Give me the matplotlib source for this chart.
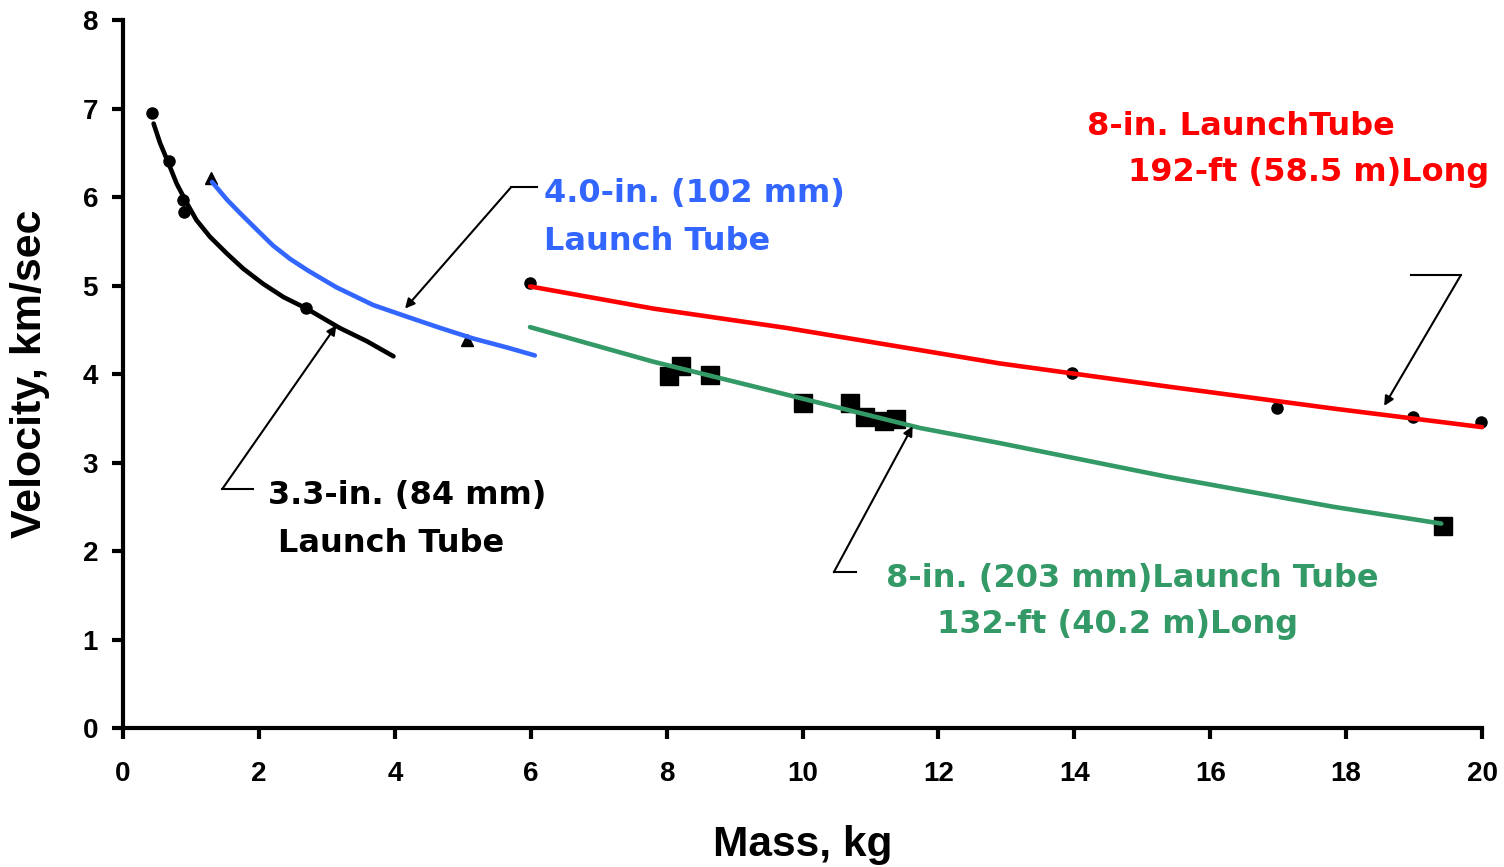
import matplotlib
matplotlib.use("Agg")
import matplotlib.pyplot as plt

plt.rcParams['font.family'] = ['Liberation Sans', 'DejaVu Sans']
plt.rcParams['font.weight'] = 'bold'

BLUE = '#3366FF'
RED = '#FF0000'
GREEN = '#339966'

# 3.3-in. tube: fitted curve and test shots
black_curve_x = [0.45, 0.545, 0.67, 0.79, 0.94, 1.08, 1.28, 1.53, 1.77, 2.06,
                 2.36, 2.70, 3.19, 3.59, 3.98]
black_curve_y = [6.83, 6.61, 6.38, 6.15, 5.93, 5.74, 5.55, 5.36, 5.19, 5.02,
                 4.87, 4.74, 4.52, 4.37, 4.20]
black_pts_x = [0.42, 0.67, 0.88, 0.90, 2.70]
black_pts_y = [6.95, 6.41, 5.97, 5.83, 4.75]

# 4.0-in. tube
blue_curve_x = [1.31, 1.53, 1.72, 1.97, 2.21, 2.46, 2.72, 3.14, 3.68, 4.17,
                4.67, 5.16, 5.65, 6.06]
blue_curve_y = [6.17, 5.97, 5.82, 5.63, 5.45, 5.30, 5.17, 4.98, 4.78, 4.65,
                4.52, 4.40, 4.30, 4.21]
blue_pts_x = [1.30, 5.06]
blue_pts_y = [6.21, 4.39]

# 8-in. tube, 192 ft long
red_curve_x = [5.99, 7.80, 9.77, 11.73, 12.90, 15.36, 17.81, 20.00]
red_curve_y = [4.99, 4.74, 4.52, 4.27, 4.12, 3.86, 3.61, 3.40]
red_pts_x = [5.99, 13.97, 16.98, 18.98, 19.98]
red_pts_y = [5.03, 4.01, 3.62, 3.51, 3.46]

# 8-in. tube, 132 ft long
green_curve_x = [5.99, 7.80, 9.28, 11.73, 12.90, 15.36, 17.81, 19.40]
green_curve_y = [4.53, 4.14, 3.86, 3.39, 3.22, 2.84, 2.50, 2.31]
green_pts_x = [8.03, 8.21, 8.64, 10.00, 10.70, 10.92, 11.20, 11.38, 19.43]
green_pts_y = [3.98, 4.09, 3.99, 3.67, 3.67, 3.51, 3.47, 3.49, 2.28]

x_ticks = list(range(0, 21, 2))
y_ticks = list(range(0, 9))

fig = plt.figure(figsize=(15.04, 8.67), dpi=100)
ax = fig.add_axes([0.0818, 0.1603, 0.9036, 0.8166])

ax.plot(black_curve_x, black_curve_y, color='black', lw=3.3, solid_capstyle='round')
ax.plot(blue_curve_x, blue_curve_y, color=BLUE, lw=3.3, solid_capstyle='round')
ax.plot(red_curve_x, red_curve_y, color=RED, lw=3.3, clip_on=False, solid_capstyle='round')
ax.plot(green_curve_x, green_curve_y, color=GREEN, lw=3.3, solid_capstyle='round')

ax.plot(black_pts_x, black_pts_y, 'o', color='black', ms=8)
ax.plot(blue_pts_x, blue_pts_y, '^', color='black', ms=8, zorder=1)
ax.plot(red_pts_x, red_pts_y, 'o', color='black', ms=8, clip_on=False, zorder=1)
ax.plot(green_pts_x, green_pts_y, 's', color='black', ms=13, zorder=1)

ax.set_xlim(0, 20)
ax.set_ylim(0, 8)
ax.set_xticks(x_ticks)
ax.set_yticks(y_ticks)
for s in ['top', 'right']:
    ax.spines[s].set_visible(False)
for s in ['left', 'bottom']:
    ax.spines[s].set_linewidth(3)
ax.tick_params(axis='both', direction='out', length=8, width=3, labelsize=20)
ax.tick_params(axis='x', pad=16)
ax.tick_params(axis='y', pad=10)

ax.set_xlabel('Mass, kg', fontsize=30.5, fontweight='bold')
ax.set_ylabel('Velocity, km/sec', fontsize=31, fontweight='bold')
ax.xaxis.set_label_coords(0.5, -0.137)
ax.yaxis.set_label_coords(-0.054, 0.5)

fs = 23
lab = dict(fontsize=fs, fontweight='bold', family='DejaVu Sans')
ax.text(14.19, 6.70, '8-in. LaunchTube', color=RED, **lab)
ax.text(14.79, 6.18, '192-ft (58.5 m)Long', color=RED, **lab)
ax.text(6.20, 5.94, '4.0-in. (102 mm)', color=BLUE, **lab)
ax.text(6.20, 5.40, 'Launch Tube', color=BLUE, **lab)
ax.text(2.13, 2.53, '3.3-in. (84 mm)', color='black', **lab)
ax.text(2.28, 1.99, 'Launch Tube', color='black', **lab)
ax.text(11.23, 1.59, '8-in. (203 mm)Launch Tube', color=GREEN, **lab)
ax.text(11.98, 1.07, '132-ft (40.2 m)Long', color=GREEN, **lab)

# leader lines: short horizontal stub then an arrow to the curve
leaders = [
    ((1.91, 2.70), (1.46, 2.70), (3.14, 4.55)),
    ((6.09, 6.11), (5.71, 6.11), (4.15, 4.74)),
    ((10.79, 1.76), (10.46, 1.76), (11.62, 3.41)),
    ((18.95, 5.12), (19.69, 5.12), (18.56, 3.64)),
]
for start, corner, tip in leaders:
    ax.plot([start[0], corner[0]], [start[1], corner[1]], color='black', lw=1.5)
    ax.annotate('', xy=tip, xytext=corner,
                arrowprops=dict(arrowstyle='-|>', color='black', lw=1.5,
                                mutation_scale=14, shrinkA=0, shrinkB=0))

fig.savefig('out.png', dpi=100)
